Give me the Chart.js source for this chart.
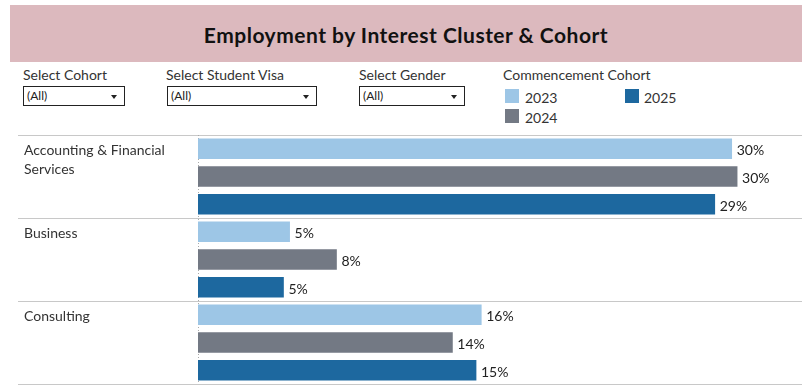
<!DOCTYPE html>
<html><head><meta charset="utf-8">
<script src="https://cdn.jsdelivr.net/npm/chart.js@4.4.1/dist/chart.umd.min.js"></script>
<style>
html,body{margin:0;padding:0;background:#fff;}
body{width:810px;height:385px;position:relative;overflow:hidden;font-family:Lato,"Noto Sans",sans-serif;color:#333;}
#title{position:absolute;left:10px;top:5px;width:792px;height:57px;background:#DCB9BE;}
#title span{position:absolute;left:0;right:0;top:17px;text-align:center;font-weight:bold;font-size:21px;letter-spacing:0.5px;line-height:25px;color:#111;}
.flabel{position:absolute;top:66px;font-size:14px;line-height:17px;color:#333;white-space:nowrap;}
.dd{position:absolute;top:86px;height:20px;box-sizing:border-box;border:1px solid #222;background:#fff;}
.dd span{position:absolute;left:3px;top:0;font-size:12px;line-height:18px;color:#222;}
.dd i{position:absolute;right:7px;top:8px;width:0;height:0;border-left:3px solid transparent;border-right:3px solid transparent;border-top:4px solid #222;}
.lg{position:absolute;width:14px;height:14px;}
.lt{position:absolute;font-size:14px;line-height:17px;color:#333;}
#wrap{position:absolute;left:0;top:130px;width:810px;height:255px;}
</style>
</head><body>
<div id="title"><span>Employment by Interest Cluster &amp; Cohort</span></div>
<div class="flabel" style="left:23px">Select Cohort</div>
<div class="dd" style="left:23px;width:102px"><span>(All)</span><i></i></div>
<div class="flabel" style="left:166px">Select Student Visa</div>
<div class="dd" style="left:167px;width:150px"><span>(All)</span><i></i></div>
<div class="flabel" style="left:359px">Select Gender</div>
<div class="dd" style="left:359px;width:106px"><span>(All)</span><i></i></div>
<div class="flabel" style="left:503px">Commencement Cohort</div>
<div id="legend"></div>
<div id="wrap"><canvas id="c" width="810" height="255"></canvas></div>
<script>
// ---- data ----
const categories = [['Accounting & Financial', 'Services'], ['Business'], ['Consulting']];
const seriesNames = ['2023', '2024', '2025'];
const values2023 = [29.62, 5.10, 15.73];
const values2024 = [29.92, 7.70, 14.13];
const values2025 = [28.68, 4.76, 15.44];

// ---- styles ----
const seriesColors = ['#9DC6E6', '#737984', '#1D689F'];
const allValues = [values2023, values2024, values2025];

const labelPlugin = {
  id: 'labels',
  beforeDatasetsDraw(chart) {
    // dotted zero line
    const ctx = chart.ctx, xs = chart.scales.x, area = chart.chartArea;
    const x0 = Math.round(xs.getPixelForValue(0)) + 0.5;
    ctx.save();
    ctx.strokeStyle = '#AAAAAA';
    ctx.lineWidth = 1;
    ctx.setLineDash([1, 2]);
    ctx.beginPath();
    ctx.moveTo(x0, area.top);
    ctx.lineTo(x0, area.bottom);
    ctx.stroke();
    ctx.restore();
  },
  afterDatasetsDraw(chart) {
    const ctx = chart.ctx;
    ctx.save();
    ctx.font = '14px Lato';
    ctx.fillStyle = '#222';
    ctx.textAlign = 'left';
    ctx.textBaseline = 'alphabetic';
    chart.data.datasets.forEach((ds, i) => {
      const meta = chart.getDatasetMeta(i);
      meta.data.forEach((bar, j) => {
        ctx.fillText(Math.round(ds.data[j]) + '%', bar.x + 4.6, bar.y + 6.5);
      });
    });
    const ys = chart.scales.y;
    const band = ys.getPixelForValue(1) - ys.getPixelForValue(0);
    ctx.fillStyle = '#333';
    chart.data.labels.forEach((lab, j) => {
      const top = ys.getPixelForValue(j) - band / 2;
      const lines = Array.isArray(lab) ? lab : [lab];
      lines.forEach((ln, k) => ctx.fillText(ln, 24, top + 20 + k * 18.7));
    });
    ctx.restore();
  }
};

const chart = new Chart(document.getElementById('c'), {
  type: 'bar',
  data: {
    labels: categories,
    datasets: seriesNames.map((n, i) => ({
      label: n,
      data: allValues[i],
      backgroundColor: seriesColors[i],
      borderWidth: 0,
      categoryPercentage: 1.0,
      barPercentage: 0.74
    }))
  },
  options: {
    indexAxis: 'y',
    responsive: false,
    animation: false,
    layout: { padding: { left: 18, right: 8, top: 5, bottom: 1 } },
    plugins: { legend: { display: false }, tooltip: { enabled: false } },
    scales: {
      x: { display: false, min: 0, max: 33.5 },
      y: {
        display: true,
        offset: true,
        grid: { display: true, offset: true, color: '#C8C8C8', lineWidth: 1, drawTicks: true, tickLength: 180 },
        border: { display: false },
        ticks: { display: false }
      }
    }
  },
  plugins: [labelPlugin]
});

// HTML legend built from the chart datasets
const lg = document.getElementById('legend');
chart.data.datasets.forEach((ds, i) => {
  const col = Math.floor(i / 2), row = i % 2;
  const sw = document.createElement('div');
  sw.className = 'lg';
  sw.style.left = (505 + col * 120) + 'px';
  sw.style.top = (89 + row * 20) + 'px';
  sw.style.background = ds.backgroundColor;
  lg.appendChild(sw);
  const t = document.createElement('div');
  t.className = 'lt';
  t.style.left = (525 + col * 119) + 'px';
  t.style.top = (88.5 + row * 20) + 'px';
  t.textContent = ds.label;
  lg.appendChild(t);
});
</script>
</body></html>
